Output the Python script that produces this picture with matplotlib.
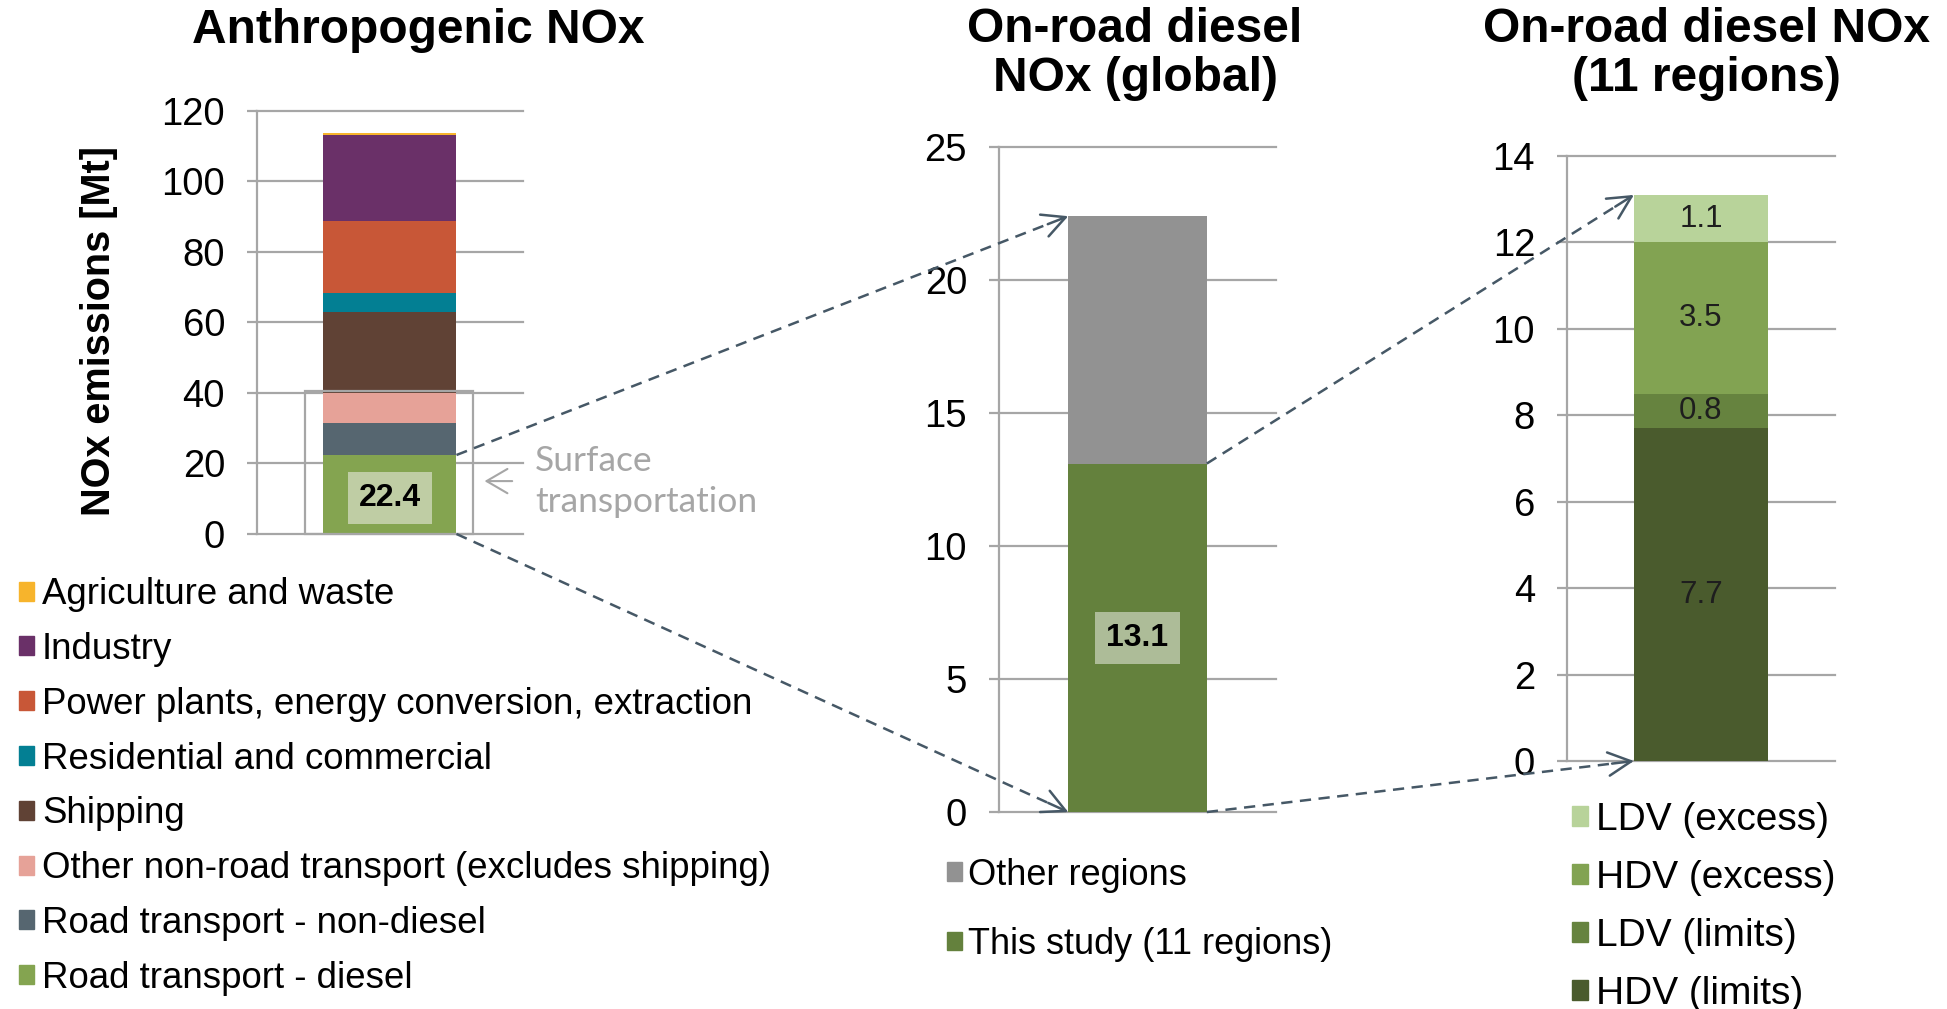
"""
Anthropogenic NOx -> on-road diesel NOx (global) -> 11 regions breakdown
"""

import matplotlib.pyplot as plt
from matplotlib.patches import Patch, Rectangle, FancyArrowPatch
from matplotlib.lines import Line2D
import numpy as np

plt.rcParams['font.family'] = ['Liberation Sans', 'DejaVu Sans']

# panel 1: global anthropogenic NOx by sector, bottom to top [Mt]
sectors = ['Road transport - diesel', 'Road transport - non-diesel',
           'Other non-road transport (excludes shipping)', 'Shipping',
           'Residential and commercial',
           'Power plants, energy conversion, extraction',
           'Industry', 'Agriculture and waste']
sector_mt = [22.4, 9.2, 8.5, 23.0, 5.3, 20.5, 24.3, 0.6]
sector_colors = ['#84a450', '#566670', '#e6a298', '#604235',
                 '#037f93', '#c85737', '#6a3068', '#f7b42c']

# panel 2: on-road diesel NOx, global
global_parts = ['This study (11 regions)', 'Other regions']
global_mt = [13.1, 9.3]
global_colors = ['#64813d', '#929292']

# panel 3: on-road diesel NOx, 11 regions
region_parts = ['HDV (limits)', 'LDV (limits)', 'HDV (excess)', 'LDV (excess)']
region_mt = [7.7, 0.8, 3.5, 1.1]
region_colors = ['#4a5b2d', '#66833f', '#82a352', '#b8d39a']

GRID = '#a6a6a6'
ARROW = '#465866'

fig = plt.figure(figsize=(19.47, 10.09), dpi=100)
ax1 = fig.add_axes([0.1320, 0.4708, 0.1366, 0.4192])
ax2 = fig.add_axes([0.5131, 0.1952, 0.1423, 0.6591])
ax3 = fig.add_axes([0.8048, 0.2458, 0.1376, 0.5996])


def stacked(ax, values, colors, ymax, step, tick_size):
    bottom = 0
    for v, c in zip(values, colors):
        ax.bar(0, v, width=0.5, bottom=bottom, color=c, zorder=2)
        bottom += v
    ax.set_xlim(-0.5, 0.5)
    ax.set_ylim(0, ymax)
    ax.set_yticks(range(0, ymax + 1, step))
    ax.set_xticks([])
    ax.grid(axis='y', color=GRID, lw=1.6)
    ax.set_axisbelow(True)
    for gl in ax.get_ygridlines():
        gl.set_clip_on(False)
    for s in ['top', 'right', 'bottom']:
        ax.spines[s].set_visible(False)
    ax.spines['left'].set_color(GRID)
    ax.spines['left'].set_linewidth(1.6)
    ax.tick_params(axis='y', length=7, width=1.6, color=GRID, pad=16,
                   labelsize=tick_size)


stacked(ax1, sector_mt, sector_colors, 120, 20, 27.5)
stacked(ax2, global_mt, global_colors, 25, 5, 27.5)
stacked(ax3, region_mt, region_colors, 14, 2, 27.5)

# titles and y label
fig.text(0.2147, 0.9693, 'Anthropogenic NOx', ha='center', va='center',
         fontsize=34.5, fontweight='bold')
fig.text(0.583, 0.9465, 'On-road diesel\nNOx (global)', ha='center',
         va='center', fontsize=34.5, fontweight='bold', linespacing=1.1)
fig.text(0.8767, 0.9465, 'On-road diesel NOx\n(11 regions)', ha='center',
         va='center', fontsize=34.5, fontweight='bold', linespacing=1.1)
fig.text(0.0508, 0.672, 'NOx emissions [Mt]', rotation=90, ha='center',
         va='center', fontsize=28.5, fontweight='bold')

# value labels
ax1.text(0, sector_mt[0] / 2 - 1, f'{sector_mt[0]}', ha='center', va='center',
         fontsize=23, fontweight='bold', zorder=4,
         bbox=dict(boxstyle='square,pad=0.35', fc='#bfcda4', ec='none'))
ax2.text(0, global_mt[0] / 2, f'{global_mt[0]}', ha='center', va='center',
         fontsize=23, fontweight='bold', zorder=4,
         bbox=dict(boxstyle='square,pad=0.35', fc='#adbc98', ec='none'))
bottom = 0
for v in region_mt:
    ax3.text(0, bottom + v / 2, f'{v}', ha='center', va='center',
             fontsize=22.5, color='#1e1e1e', zorder=4)
    bottom += v

# surface transportation box
surface = sum(sector_mt[:3])
ax1.add_patch(Rectangle((-0.32, 0), 0.632, surface + 0.6, fill=False,
                        ec=GRID, lw=1.6, clip_on=False, zorder=3))
ax1.annotate('', xy=(0.345, 15), xytext=(0.47, 15),
             arrowprops=dict(arrowstyle='->,head_length=0.6,head_width=0.35',
                             color=GRID, lw=1.5, mutation_scale=25),
             annotation_clip=False)
ax1.text(0.545, 15, 'Surface\ntransportation', ha='left', va='center',
         fontsize=25.5, color=GRID, family=['Lato', 'DejaVu Sans'],
         linespacing=1.35)

# legends
ax1.legend([Patch(color=c) for c in sector_colors[::-1]], sectors[::-1],
           loc='upper left', bbox_to_anchor=(0.0098, 0.428),
           bbox_transform=fig.transFigure, frameon=False, fontsize=26.4,
           handlelength=0.42, handleheight=0.42, handletextpad=0.2,
           labelspacing=0.54, borderpad=0, borderaxespad=0)
ax2.legend([Patch(color=c) for c in global_colors[::-1]], global_parts[::-1],
           loc='upper left', bbox_to_anchor=(0.4864, 0.150),
           bbox_transform=fig.transFigure, frameon=False, fontsize=26,
           handlelength=0.42, handleheight=0.42, handletextpad=0.17,
           labelspacing=0.95, borderpad=0, borderaxespad=0)
ax3.legend([Patch(color=c) for c in region_colors[::-1]], region_parts[::-1],
           loc='upper left', bbox_to_anchor=(0.8074, 0.205),
           bbox_transform=fig.transFigure, frameon=False, fontsize=28,
           handlelength=0.42, handleheight=0.42, handletextpad=0.2,
           labelspacing=0.565, borderpad=0, borderaxespad=0)


# dashed connector arrows between panels
def connect(axa, ya, axb, yb):
    inv = fig.transFigure.inverted()
    pa = axa.transData.transform((0.25, ya))
    pb = axb.transData.transform((-0.25, yb))
    pc = pb + (pa - pb) * 22 / np.hypot(*(pa - pb))
    a, b, c = inv.transform(pa), inv.transform(pb), inv.transform(pc)
    fig.add_artist(Line2D([a[0], c[0]], [a[1], c[1]], transform=fig.transFigure,
                          color=ARROW, lw=1.8, dashes=(4.5, 3), zorder=10))
    fig.add_artist(FancyArrowPatch(c, b, transform=fig.transFigure,
                                   arrowstyle='->,head_length=0.55,head_width=0.28',
                                   mutation_scale=30, color=ARROW, lw=1.8,
                                   shrinkA=0, shrinkB=0, zorder=10))


connect(ax1, sector_mt[0], ax2, sum(global_mt))
connect(ax1, 0, ax2, 0)
connect(ax2, global_mt[0], ax3, sum(region_mt))
connect(ax2, 0, ax3, 0)

fig.savefig('out.png', dpi=100)
